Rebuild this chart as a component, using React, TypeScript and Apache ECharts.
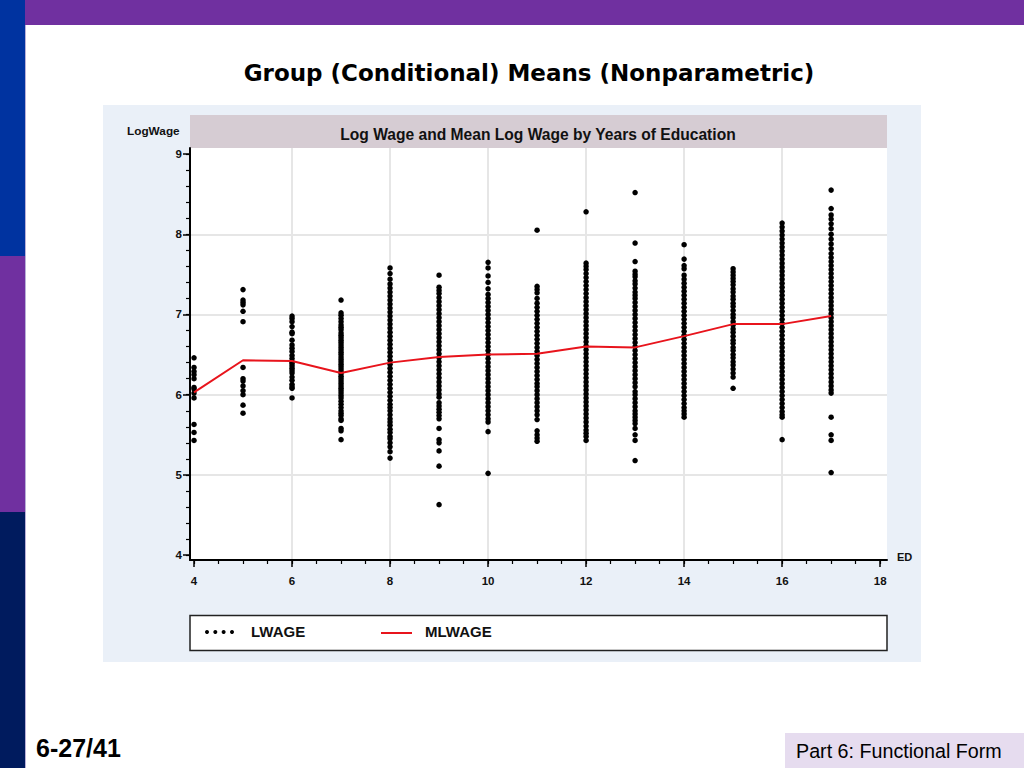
import React, { useEffect, useRef } from "react";
import * as echarts from "echarts";

// ---- data ----
const educationLevels = [4, 5, 6, 7, 8, 9, 10, 11, 12, 13, 14, 15, 16, 17];

const lwage4 = [6.46, 6.34, 6.29, 6.25, 6.2, 6.09, 6.07, 6.02, 5.96, 5.63, 5.53, 5.43];
const lwage5 = [7.31, 7.18, 7.15, 7.12, 7.04, 6.91, 6.34, 6.2, 6.17, 6.11, 6.05, 6.0, 5.87, 5.77];
const lwage6 = [6.98, 6.95, 6.91, 6.85, 6.78, 6.76, 6.68, 6.62, 6.58, 6.54, 6.49, 6.45, 6.41, 6.39, 6.36, 6.33, 6.3, 6.27, 6.22, 6.18, 6.13, 6.1, 6.08, 5.96];
const lwage7 = [7.18, 7.02, 6.99, 6.95, 6.91, 6.87, 6.84, 6.81, 6.77, 6.74, 6.71, 6.68, 6.65, 6.62, 6.59, 6.56, 6.53, 6.5, 6.47, 6.44, 6.41, 6.38, 6.35, 6.32, 6.29, 6.26, 6.23, 6.2, 6.17, 6.14, 6.11, 6.08, 6.05, 6.02, 5.99, 5.96, 5.92, 5.88, 5.84, 5.8, 5.77, 5.74, 5.7, 5.68, 5.58, 5.55, 5.44];
const lwage8 = [7.58, 7.51, 7.44, 7.38, 7.33, 7.28, 7.23, 7.18, 7.13, 7.08, 7.03, 6.98, 6.93, 6.88, 6.83, 6.78, 6.73, 6.68, 6.63, 6.58, 6.53, 6.48, 6.43, 6.38, 6.33, 6.28, 6.23, 6.18, 6.13, 6.08, 6.03, 5.98, 5.93, 5.88, 5.84, 5.8, 5.75, 5.7, 5.66, 5.62, 5.57, 5.53, 5.48, 5.45, 5.4, 5.35, 5.29, 5.21];
const lwage9 = [7.49, 7.34, 7.3, 7.26, 7.21, 7.16, 7.11, 7.06, 7.01, 6.96, 6.91, 6.86, 6.81, 6.76, 6.71, 6.66, 6.61, 6.56, 6.51, 6.46, 6.41, 6.36, 6.31, 6.26, 6.21, 6.16, 6.11, 6.06, 6.01, 5.97, 5.9, 5.86, 5.82, 5.78, 5.74, 5.7, 5.58, 5.44, 5.4, 5.3, 5.11, 4.63];
const lwage10 = [7.65, 7.58, 7.48, 7.4, 7.32, 7.25, 7.2, 7.15, 7.1, 7.05, 7.0, 6.95, 6.9, 6.85, 6.8, 6.75, 6.7, 6.65, 6.6, 6.55, 6.5, 6.45, 6.4, 6.35, 6.3, 6.25, 6.2, 6.15, 6.1, 6.05, 6.0, 5.95, 5.9, 5.85, 5.8, 5.75, 5.7, 5.66, 5.54, 5.02];
const lwage11 = [8.05, 7.35, 7.31, 7.27, 7.2, 7.14, 7.09, 7.04, 6.99, 6.94, 6.89, 6.84, 6.79, 6.74, 6.69, 6.64, 6.59, 6.54, 6.49, 6.44, 6.39, 6.34, 6.29, 6.24, 6.19, 6.14, 6.1, 6.05, 6.0, 5.95, 5.9, 5.85, 5.8, 5.75, 5.69, 5.55, 5.5, 5.46, 5.42];
const lwage12 = [8.28, 7.64, 7.6, 7.56, 7.51, 7.46, 7.41, 7.36, 7.31, 7.26, 7.21, 7.16, 7.11, 7.06, 7.01, 6.96, 6.91, 6.86, 6.81, 6.76, 6.71, 6.66, 6.61, 6.56, 6.51, 6.46, 6.41, 6.36, 6.31, 6.26, 6.21, 6.16, 6.11, 6.06, 6.01, 5.96, 5.91, 5.86, 5.81, 5.76, 5.71, 5.66, 5.61, 5.56, 5.52, 5.48, 5.43];
const lwage13 = [8.52, 7.89, 7.66, 7.54, 7.5, 7.47, 7.42, 7.38, 7.33, 7.28, 7.24, 7.2, 7.15, 7.1, 7.05, 7.0, 6.95, 6.9, 6.85, 6.8, 6.75, 6.7, 6.65, 6.6, 6.55, 6.5, 6.45, 6.4, 6.35, 6.3, 6.25, 6.2, 6.15, 6.1, 6.04, 6.0, 5.95, 5.9, 5.85, 5.8, 5.76, 5.72, 5.68, 5.64, 5.58, 5.5, 5.43, 5.18];
const lwage14 = [7.87, 7.69, 7.61, 7.57, 7.49, 7.44, 7.39, 7.34, 7.29, 7.24, 7.19, 7.14, 7.09, 7.04, 6.99, 6.94, 6.89, 6.84, 6.79, 6.74, 6.69, 6.64, 6.59, 6.54, 6.49, 6.44, 6.39, 6.34, 6.29, 6.24, 6.19, 6.14, 6.09, 6.04, 5.99, 5.94, 5.89, 5.84, 5.8, 5.76, 5.72];
const lwage15 = [7.57, 7.53, 7.49, 7.45, 7.41, 7.37, 7.32, 7.28, 7.23, 7.19, 7.14, 7.1, 7.05, 7.0, 6.96, 6.91, 6.87, 6.82, 6.78, 6.73, 6.68, 6.64, 6.59, 6.55, 6.5, 6.46, 6.41, 6.37, 6.32, 6.27, 6.22, 6.08];
const lwage16 = [8.14, 8.09, 8.04, 7.99, 7.94, 7.89, 7.84, 7.79, 7.74, 7.69, 7.64, 7.59, 7.54, 7.49, 7.44, 7.39, 7.34, 7.29, 7.24, 7.19, 7.14, 7.09, 7.04, 6.99, 6.94, 6.89, 6.84, 6.79, 6.74, 6.69, 6.64, 6.59, 6.54, 6.49, 6.44, 6.39, 6.34, 6.29, 6.24, 6.19, 6.14, 6.09, 6.04, 5.99, 5.94, 5.89, 5.84, 5.79, 5.75, 5.72, 5.44];
const lwage17 = [8.55, 8.32, 8.24, 8.19, 8.13, 8.07, 8.0, 7.94, 7.88, 7.82, 7.76, 7.71, 7.66, 7.61, 7.56, 7.51, 7.46, 7.41, 7.36, 7.31, 7.26, 7.21, 7.16, 7.11, 7.06, 7.01, 6.96, 6.91, 6.86, 6.81, 6.76, 6.71, 6.66, 6.61, 6.56, 6.51, 6.46, 6.41, 6.36, 6.31, 6.26, 6.21, 6.16, 6.11, 6.06, 6.02, 5.72, 5.5, 5.43, 5.03];

const meanLogWage = [6.03, 6.43, 6.42, 6.27, 6.4, 6.47, 6.5, 6.51, 6.6, 6.59, 6.73, 6.88, 6.88, 6.98];

const xTickLabels = [4, 6, 8, 10, 12, 14, 16, 18];
const xMinorTicks = [4, 4.5, 5, 5.5, 6, 6.5, 7, 7.5, 8, 8.5, 9, 9.5, 10, 10.5, 11, 11.5, 12, 12.5, 13, 13.5, 14, 14.5, 15, 15.5, 16, 16.5, 17, 17.5, 18];
const yTickLabels = [4, 5, 6, 7, 8, 9];
const yMinorTicks = [4, 4.2, 4.4, 4.6, 4.8, 5, 5.2, 5.4, 5.6, 5.8, 6, 6.2, 6.4, 6.6, 6.8, 7, 7.2, 7.4, 7.6, 7.8, 8, 8.2, 8.4, 8.6, 8.8, 9];
const xGridValues = [6, 8, 10, 12, 14, 16];
const yGridValues = [5, 6, 7, 8];

const lwageGroups = [lwage4, lwage5, lwage6, lwage7, lwage8, lwage9, lwage10, lwage11, lwage12, lwage13, lwage14, lwage15, lwage16, lwage17];

const FONT = "'Liberation Sans', Arial, sans-serif";

export default function App() {
  const ref = useRef<HTMLDivElement>(null);

  useEffect(() => {
    document.body.style.margin = "0";
    if (!ref.current) return;
    const chart = echarts.init(ref.current, undefined, { renderer: "svg" });

    const scatterData: number[][] = [];
    lwageGroups.forEach((g, i) => {
      g.forEach((v) => scatterData.push([educationLevels[i], v]));
    });
    const meanData = educationLevels.map((e, i) => [e, meanLogWage[i]]);

    const grid = { left: 190, top: 148, width: 697, height: 412 };
    const xMin = 3.918;
    const xMax = 18.14;
    const yMin = 3.94;
    const yMax = 9.075;

    chart.setOption({
      animation: false,
      backgroundColor: "#ffffff",
      grid: { ...grid, show: false, containLabel: false },
      xAxis: [
        {
          type: "value",
          min: xMin,
          max: xMax,
          position: "bottom",
          z: 5,
          axisLine: { show: true, onZero: false, lineStyle: { color: "#000", width: 2 } },
          axisTick: { show: true, customValues: xTickLabels, length: 7, lineStyle: { color: "#000", width: 1.5 } },
          axisLabel: {
            show: true,
            customValues: xTickLabels,
            margin: 15,
            color: "#111",
            fontFamily: FONT,
            fontWeight: "bold",
            fontSize: 11.5,
          },
          splitLine: { show: false },
        },
        {
          type: "value",
          min: xMin,
          max: xMax,
          position: "bottom",
          offset: 0,
          z: 5,
          axisLine: { show: false, onZero: false },
          axisTick: { show: true, customValues: xMinorTicks, length: 4, lineStyle: { color: "#000", width: 1.2 } },
          axisLabel: { show: false },
          splitLine: { show: false },
        },
      ],
      yAxis: [
        {
          type: "value",
          min: yMin,
          max: yMax,
          position: "left",
          z: 5,
          axisLine: { show: true, onZero: false, lineStyle: { color: "#000", width: 2 } },
          axisTick: { show: true, customValues: yTickLabels, length: 7, lineStyle: { color: "#000", width: 1.5 } },
          axisLabel: {
            show: true,
            customValues: yTickLabels,
            margin: 8,
            color: "#111",
            fontFamily: FONT,
            fontWeight: "bold",
            fontSize: 11.5,
          },
          splitLine: { show: false },
        },
        {
          type: "value",
          min: yMin,
          max: yMax,
          position: "left",
          offset: 0,
          z: 5,
          axisLine: { show: false, onZero: false },
          axisTick: { show: true, customValues: yMinorTicks, length: 4, lineStyle: { color: "#000", width: 1.2 } },
          axisLabel: { show: false },
          splitLine: { show: false },
        },
      ],
      series: [
        {
          name: "grid",
          type: "line",
          data: [],
          z: 1,
          silent: true,
          markLine: {
            silent: true,
            z: 1,
            symbol: ["none", "none"],
            label: { show: false },
            emphasis: { disabled: true },
            lineStyle: { color: "#e6e6e6", width: 2, type: "solid" },
            data: [
              ...xGridValues.map((v) => ({ xAxis: v })),
              ...yGridValues.map((v) => ({ yAxis: v })),
            ],
          },
        },
        {
          name: "LWAGE",
          type: "scatter",
          data: scatterData,
          symbol: "circle",
          symbolSize: 5.5,
          itemStyle: { color: "#000", opacity: 1 },
          z: 3,
          silent: true,
        },
        {
          name: "MLWAGE",
          type: "line",
          data: meanData,
          symbol: "none",
          lineStyle: { color: "#e8141c", width: 2 },
          z: 4,
          silent: true,
        },
      ],
      graphic: {
        elements: [
          // slide decorations
          { type: "rect", shape: { x: 25, y: 0, width: 999, height: 25 }, style: { fill: "#7030a0" }, z: -10 },
          { type: "rect", shape: { x: 0, y: 0, width: 25, height: 256 }, style: { fill: "#0033a0" }, z: -10 },
          { type: "rect", shape: { x: 0, y: 256, width: 25, height: 256 }, style: { fill: "#7030a0" }, z: -10 },
          { type: "rect", shape: { x: 0, y: 512, width: 25, height: 256 }, style: { fill: "#001b5e" }, z: -10 },
          { type: "rect", shape: { x: 25, y: 25, width: 1, height: 743 }, style: { fill: "#b9b0d8" }, z: -10 },
          {
            type: "text",
            x: 529,
            y: 73,
            style: {
              text: "Group (Conditional) Means (Nonparametric)",
              fontFamily: "'DejaVu Sans', Verdana, sans-serif",
              fontWeight: "bold",
              fontSize: 23,
              fill: "#000",
              align: "center",
              verticalAlign: "middle",
            },
            z: -5,
          },
          // chart panel
          { type: "rect", shape: { x: 103, y: 105, width: 818, height: 557 }, style: { fill: "#eaf0f8" }, z: -9 },
          { type: "rect", shape: { x: 190, y: 148, width: 697, height: 412 }, style: { fill: "#ffffff" }, z: -8 },
          { type: "rect", shape: { x: 190, y: 115, width: 697, height: 33 }, style: { fill: "#d6ccd3" }, z: -8 },
          {
            type: "text",
            x: 538,
            y: 134,
            style: {
              text: "Log Wage and Mean Log Wage by Years of Education",
              fontFamily: FONT,
              fontWeight: "bold",
              fontSize: 15.6,
              fill: "#111",
              align: "center",
              verticalAlign: "middle",
            },
            z: -5,
          },
          {
            type: "text",
            x: 127,
            y: 131,
            style: { text: "LogWage", fontFamily: FONT, fontWeight: "bold", fontSize: 11.8, fill: "#111", align: "left", verticalAlign: "middle" },
            z: -5,
          },
          {
            type: "text",
            x: 897,
            y: 557,
            style: { text: "ED", fontFamily: FONT, fontWeight: "bold", fontSize: 11, fill: "#111", align: "left", verticalAlign: "middle" },
            z: -5,
          },
          // legend
          { type: "rect", shape: { x: 190, y: 615.5, width: 697, height: 35 }, style: { fill: "#ffffff", stroke: "#222", lineWidth: 1.5 }, z: -5 },
          { type: "circle", shape: { cx: 207, cy: 632, r: 2 }, style: { fill: "#000" }, z: -4 },
          { type: "circle", shape: { cx: 215.3, cy: 632, r: 2 }, style: { fill: "#000" }, z: -4 },
          { type: "circle", shape: { cx: 223.6, cy: 632, r: 2 }, style: { fill: "#000" }, z: -4 },
          { type: "circle", shape: { cx: 232, cy: 632, r: 2 }, style: { fill: "#000" }, z: -4 },
          {
            type: "text",
            x: 251,
            y: 631,
            style: { text: "LWAGE", fontFamily: FONT, fontWeight: "bold", fontSize: 15, fill: "#111", align: "left", verticalAlign: "middle" },
            z: -4,
          },
          { type: "line", shape: { x1: 381, y1: 633, x2: 412, y2: 633 }, style: { stroke: "#e8141c", lineWidth: 2 }, z: -4 },
          {
            type: "text",
            x: 425,
            y: 631,
            style: { text: "MLWAGE", fontFamily: FONT, fontWeight: "bold", fontSize: 15, fill: "#111", align: "left", verticalAlign: "middle" },
            z: -4,
          },
          // footer
          {
            type: "text",
            x: 36,
            y: 748,
            style: { text: "6-27/41", fontFamily: FONT, fontWeight: "bold", fontSize: 25, fill: "#000", align: "left", verticalAlign: "middle" },
            z: -4,
          },
          { type: "rect", shape: { x: 785, y: 733, width: 239, height: 35 }, style: { fill: "#e6dcef" }, z: -6 },
          {
            type: "text",
            x: 796,
            y: 751,
            style: { text: "Part 6: Functional Form", fontFamily: FONT, fontSize: 19.7, fill: "#000", align: "left", verticalAlign: "middle" },
            z: -4,
          },
        ],
      },
    });

    return () => chart.dispose();
  }, []);

  return <div ref={ref} style={{ position: "absolute", left: 0, top: 0, width: 1024, height: 768 }} />;
}
